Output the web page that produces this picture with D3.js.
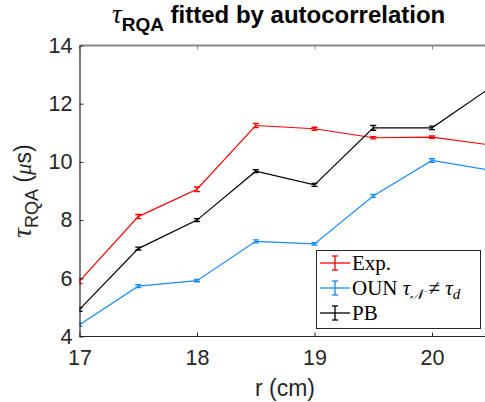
<!DOCTYPE html>
<html>
<head>
<meta charset="utf-8">
<script src="https://cdn.jsdelivr.net/npm/d3@7"></script>
<style>
  html, body { margin: 0; padding: 0; background: #fff; }
  svg { display: block; }
</style>
</head>
<body>
<svg id="chart" width="485" height="402"></svg>
<script>
// Radius values (cm)
const radii = [17, 17.5, 18, 18.5, 19, 19.5, 20, 20.5];

// Fitted tau_RQA (microseconds) for each series, with error half-widths
const expValues = [5.90, 8.12, 9.06, 11.25, 11.14, 10.83, 10.85, 10.58];
const expErrors = [0.08, 0.07, 0.08, 0.07, 0.05, 0.04, 0.04, 0.04];

const ounValues = [4.40, 5.73, 5.92, 7.27, 7.18, 8.83, 10.05, 9.71];
const ounErrors = [0.05, 0.05, 0.04, 0.05, 0.04, 0.05, 0.06, 0.05];

const pbValues = [4.93, 7.02, 8.00, 9.68, 9.21, 11.17, 11.17, 12.56];
const pbErrors = [0.06, 0.05, 0.05, 0.05, 0.05, 0.08, 0.06, 0.06];

const xTicks = [17, 18, 19, 20];
const yTicks = [4, 6, 8, 10, 12, 14];

const series = [
  { name: "Exp.", values: expValues, errors: expErrors, color: "#ff0000" },
  { name: "OUN", values: ounValues, errors: ounErrors, color: "#1a8cff" },
  { name: "PB", values: pbValues, errors: pbErrors, color: "#000000" }
];

const svg = d3.select("#chart");
const mLeft = 79.5, mRight = 608.25, mTop = 45.5, mBottom = 336.5;
const W = 485;

const x = d3.scaleLinear().domain([17, 21.5]).range([mLeft, mRight]);
const y = d3.scaleLinear().domain([4, 14]).range([mBottom, mTop]);

const axisColor = "#262626";
const sans = "'Liberation Sans', Arial, Helvetica, sans-serif";
const serif = "'Liberation Serif', 'Times New Roman', serif";

// Box top edge (drawn lighter) with inward ticks
svg.append("line")
  .attr("x1", mLeft).attr("x2", W).attr("y1", mTop).attr("y2", mTop)
  .attr("stroke", "#8a8a8a").attr("stroke-width", 1.8);
const topAxis = svg.append("g").attr("transform", `translate(0,${mTop})`)
  .call(d3.axisBottom(x).tickValues(xTicks).tickSize(4).tickFormat(""));
topAxis.select(".domain").remove();
topAxis.selectAll(".tick line").attr("stroke", "#8a8a8a").attr("stroke-width", 1);

// Plot area clip
svg.append("defs").append("clipPath").attr("id", "plotClip")
  .append("rect").attr("x", mLeft).attr("y", 0).attr("width", W - mLeft).attr("height", 402);

const plot = svg.append("g").attr("clip-path", "url(#plotClip)");

const line = d3.line().x((d, i) => x(radii[i])).y(d => y(d));

series.forEach(s => {
  plot.append("path")
    .datum(s.values)
    .attr("fill", "none")
    .attr("stroke", s.color)
    .attr("stroke-width", 1.2)
    .attr("d", line);

  const eb = plot.append("g").attr("stroke", s.color).attr("stroke-width", 1.4);
  s.values.forEach((v, i) => {
    const cx = x(radii[i]);
    const y1 = y(v - s.errors[i]), y2 = y(v + s.errors[i]);
    eb.append("line").attr("x1", cx).attr("x2", cx).attr("y1", y1).attr("y2", y2);
    eb.append("line").attr("x1", cx - 3).attr("x2", cx + 3).attr("y1", y1).attr("y2", y1);
    eb.append("line").attr("x1", cx - 3).attr("x2", cx + 3).attr("y1", y2).attr("y2", y2);
  });
});

// Bottom axis
const xAxis = svg.append("g").attr("transform", `translate(0,${mBottom})`)
  .call(d3.axisBottom(x).tickValues(xTicks).tickSizeInner(-4).tickSizeOuter(0).tickPadding(13).tickFormat(d3.format("d")));
xAxis.select(".domain").attr("d", `M${mLeft},0H${W}`).attr("stroke", axisColor).attr("stroke-width", 1.2);
xAxis.selectAll(".tick line").attr("stroke", axisColor);
xAxis.selectAll(".tick text").attr("fill", axisColor).style("font", `21.5px ${sans}`).attr("dy", "0.71em");

// Left axis
const yAxis = svg.append("g").attr("transform", `translate(${mLeft},0)`)
  .call(d3.axisLeft(y).tickValues(yTicks).tickSizeInner(-4).tickSizeOuter(0).tickPadding(7).tickFormat(d3.format("d")));
yAxis.select(".domain").attr("stroke", axisColor).attr("stroke-width", 1.2);
yAxis.selectAll(".tick line").attr("stroke", axisColor);
yAxis.selectAll(".tick text").attr("fill", axisColor).style("font", `21.5px ${sans}`);

// X label
svg.append("text")
  .attr("x", 285).attr("y", 396)
  .attr("text-anchor", "middle")
  .attr("fill", axisColor)
  .style("font", `23px ${sans}`)
  .text("r (cm)");

// Y label
const yl = svg.append("text")
  .attr("transform", "translate(31,191) rotate(-90)")
  .attr("text-anchor", "middle")
  .attr("fill", axisColor)
  .style("font", `23px ${sans}`);
yl.append("tspan").style("font-style", "italic").style("font-family", serif).style("font-size", "27px").text("τ");
yl.append("tspan").attr("dy", 7).style("font-size", "18px").text("RQA");
yl.append("tspan").attr("dy", -7).text(" (");
yl.append("tspan").style("font-style", "italic").style("font-family", serif).text("μ");
yl.append("tspan").text("s)");

// Title
const title = svg.append("text")
  .attr("x", 112).attr("y", 23)
  .attr("text-anchor", "start")
  .attr("fill", "#000")
  .style("font", `bold 24px ${sans}`);
title.append("tspan").style("font-style", "italic").style("font-weight", "normal").style("font-family", serif).style("font-size", "27px").text("τ");
title.append("tspan").attr("dy", 8).style("font-size", "19px").text("RQA");
title.append("tspan").attr("dy", -8).text(" fitted by autocorrelation");

// Legend
const lg = svg.append("g");
lg.append("rect")
  .attr("x", 316.5).attr("y", 250.5).attr("width", 164).attr("height", 78)
  .attr("fill", "#fff").attr("stroke", axisColor).attr("stroke-width", 1);

const legendRows = [263, 288, 313];
series.forEach((s, i) => {
  const ly = legendRows[i];
  const g = lg.append("g").attr("stroke", s.color).attr("stroke-width", 1.3);
  g.append("line").attr("x1", 320).attr("x2", 350).attr("y1", ly).attr("y2", ly);
  g.append("line").attr("x1", 335).attr("x2", 335).attr("y1", ly - 7).attr("y2", ly + 7);
  g.append("line").attr("x1", 332).attr("x2", 338).attr("y1", ly - 7).attr("y2", ly - 7);
  g.append("line").attr("x1", 332).attr("x2", 338).attr("y1", ly + 7).attr("y2", ly + 7);

  const t = lg.append("text")
    .attr("x", 352).attr("y", ly + 7)
    .attr("fill", "#000")
    .style("font", `21px ${serif}`);
  if (s.name === "OUN") {
    t.append("tspan").text("OUN ");
    t.append("tspan").style("font-style", "italic").text("τ");
    t.append("tspan").attr("dy", 4).style("font-size", "14px").style("font-style", "italic").text("𝒩");
    t.append("tspan").attr("dy", -4).text(" ≠ ");
    t.append("tspan").style("font-style", "italic").text("τ");
    t.append("tspan").attr("dy", 4).style("font-size", "15px").style("font-style", "italic").text("d");
  } else {
    t.text(s.name);
  }
});
</script>
</body>
</html>
